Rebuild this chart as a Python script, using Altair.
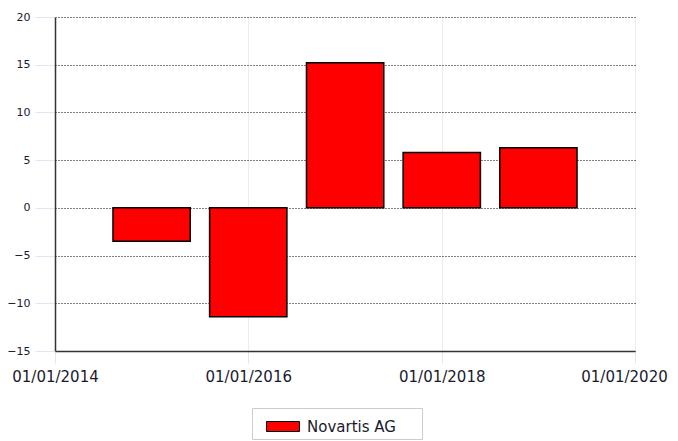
import altair as alt
import pandas as pd

dates = ["2015-01-01", "2016-01-01", "2017-01-01", "2018-01-01", "2019-01-01"]
values = [-3.5, -11.4, 15.2, 5.8, 6.3]
series = ["Novartis AG"] * 5

df = pd.DataFrame({"date": pd.to_datetime(dates), "value": values, "series": series})
half = pd.Timedelta(days=146)
df["start"] = df["date"] - half
df["end"] = df["date"] + half

font = "DejaVu Sans"

chart = alt.Chart(df).mark_bar(stroke="black", strokeWidth=1.5, color="#ff0000").encode(
    x=alt.X("start:T",
            scale=alt.Scale(domain=["2014-01-01T00:00:00", "2020-01-01T00:00:00"], nice=False),
            axis=alt.Axis(format="%d/%m/%Y", values=["2014-01-01T00:00:00", "2016-01-01T00:00:00",
                                                        "2018-01-01T00:00:00", "2020-01-01T00:00:00"],
                          title=None, labelFontSize=15, labelFont=font, labelColor="#1a1a2e",
                          labelOverlap=False, labelBound=False, labelFlush=False,
                          labelOffset=alt.ExprRef("year(datum.value) == 2020 ? -11 : 0"),
                          tickColor="#dce8f5", tickSize=12, labelPadding=6,
                          grid=True, gridColor="#e6eef8", gridWidth=1,
                          domainColor="#333333", domainWidth=1.5)),
    x2="end:T",
    y=alt.Y("value:Q", scale=alt.Scale(domain=[-15, 20], nice=False),
            axis=alt.Axis(values=[-15, -10, -5, 0, 5, 10, 15, 20], title=None,
                          labelFontSize=11, labelFont=font, labelColor="#1a1a2e",
                          tickColor="#dce8f5", tickSize=20, labelPadding=5,
                          grid=True, gridColor="#000000", gridDash=[1, 2], gridWidth=1,
                          domainColor="#333333", domainWidth=1.5)),
    y2=alt.datum(0),
    color=alt.Color("series:N", scale=alt.Scale(range=["#ff0000"]),
                    legend=alt.Legend(title="\u00a0", titleOrient="right", titlePadding=22,
                                      titleFontSize=12,
                                      orient="none", legendX=197, legendY=391,
                                      symbolType="M-0.286,-0.357L2.07,-0.357L2.07,0.357L-0.286,0.357Z",
                                      symbolSize=784, symbolStrokeColor="black", symbolStrokeWidth=1,
                                      symbolFillColor="#ff0000",
                                      labelFontSize=15, labelFont=font, labelColor="#1a1a2e",
                                      labelOffset=22,
                                      strokeColor="#cccccc", padding=4, cornerRadius=0,
                                      labelLimit=300)),
).properties(
    width=580, height=334,
    padding={"left": 47, "top": 9, "right": 35, "bottom": 90},
    autosize=alt.AutoSizeParams(type="none"),
).configure_view(stroke=None)

chart.save("out.html", embed_options={"renderer": "svg", "actions": False})
